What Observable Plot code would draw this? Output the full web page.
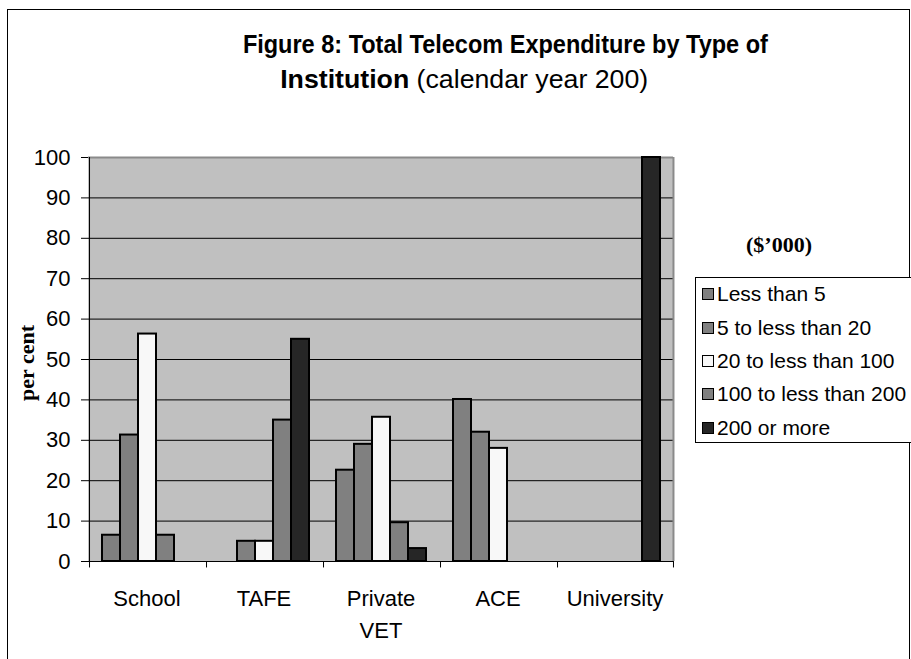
<!DOCTYPE html>
<html><head><meta charset="utf-8">
<script src="https://cdn.jsdelivr.net/npm/d3@7"></script>
<script src="https://cdn.jsdelivr.net/npm/@observablehq/plot@0.6"></script>
<style>
body{margin:0;background:#fff;font-family:"Liberation Sans",Arial,sans-serif;color:#000;}
#wrap{position:relative;width:911px;height:659px;overflow:hidden;}
#border{position:absolute;left:7px;top:9px;width:903px;height:720px;border:1px solid #000;box-sizing:border-box;}
.t{position:absolute;font-size:26px;line-height:26px;white-space:nowrap;transform-origin:center center;}
#ylab{position:absolute;left:27px;top:363px;transform:translate(-50%,-50%) rotate(-90deg);font-family:"Liberation Serif","Times New Roman",serif;font-weight:bold;font-size:22px;white-space:nowrap;}
#unit{position:absolute;left:779px;top:245px;transform:translate(-50%,-50%);font-family:"Liberation Serif","Times New Roman",serif;font-weight:bold;font-size:22px;white-space:nowrap;}
#legend{position:absolute;left:695px;top:277px;width:240px;height:166px;border:1px solid #000;box-sizing:border-box;background:#fff;}
.li{position:absolute;left:6px;height:24px;display:flex;align-items:center;font-size:21px;white-space:nowrap;}
.sw{width:10px;height:10px;border:1.5px solid #000;margin-right:3px;}
#chart{position:absolute;left:0;top:0;}
</style></head>
<body><div id="wrap">
<div id="border"></div>
<div class="t" id="t1" style="top:31px"><b>Figure 8: Total Telecom Expenditure by Type of</b></div>
<div class="t" id="t2" style="top:66px"><b>Institution</b> (calendar year 200)</div>
<div id="chart"></div>
<div id="ylab">per cent</div>
<div id="unit">($’000)</div>
<div id="legend"></div>
</div>
<script>
const categories = ["School", "TAFE", "Private VET", "ACE", "University"];
const series = ["Less than 5", "5 to less than 20", "20 to less than 100", "100 to less than 200", "200 or more"];
const lessThan5      = [6.5, 0, 22.6, 40.1, 0];
const from5to20      = [31.3, 5.0, 29.0, 32.0, 0];
const from20to100    = [56.3, 5.0, 35.7, 28.0, 0];
const from100to200   = [6.5, 35.0, 9.6, 0, 0];
const from200up      = [0, 55.0, 3.2, 0, 100];
const yTicks = [0, 10, 20, 30, 40, 50, 60, 70, 80, 90, 100];
const seriesColors = ["#808080", "#808080", "#f8f8f8", "#808080", "#262626"];

const valueArrays = [lessThan5, from5to20, from20to100, from100to200, from200up];
const rows = [];
categories.forEach((c, i) => series.forEach((s, j) => rows.push({cat: c, series: s, value: valueArrays[j][i]})));

const W = 911, H = 659, ml = 87, mr = W - 673, mt = 157, mb = H - 561;
const po = 0.7;
const fw = (W - ml - mr) / categories.length;
const step = fw / (series.length + 2 * po);
const edge = (0.5 + po) * step;
const fmt = d => d === "Private VET" ? "Private\nVET" : d;

const chart = Plot.plot({
  width: W, height: H,
  marginLeft: ml, marginRight: mr, marginTop: mt, marginBottom: mb,
  style: {fontFamily: "'Liberation Sans', Arial, sans-serif", fontSize: "22px", color: "#000", background: "transparent", overflow: "visible"},
  fx: {domain: categories, padding: 0, label: null, axis: null},
  x: {domain: series, paddingInner: 0, paddingOuter: po, axis: null},
  y: {domain: [0, 100], axis: null, label: null},
  color: {domain: series, range: seriesColors},
  marks: [
    Plot.frame({fill: "#c0c0c0", stroke: "#c0c0c0"}),
    Plot.gridY(yTicks.filter(t => t > 0 && t < 100), {stroke: "#000", strokeOpacity: 1, strokeWidth: 1}),
    Plot.ruleY([100], {stroke: "#8a8a8a", strokeWidth: 2}),
    Plot.barY(rows.filter(d => d.value > 0), {fx: "cat", x: "series", y: "value", fill: "series", stroke: "#000", strokeWidth: 2}),
    Plot.ruleY([0], {stroke: "#000", strokeWidth: 1}),
    Plot.ruleX(categories, {fx: d => d, x: () => series[0], y1: 0, y2: -1.6, dx: -edge, stroke: "#000"}),
    Plot.ruleX([categories[categories.length - 1]], {fx: d => d, x: () => series[series.length - 1], y1: 0, y2: -1.6, dx: edge, stroke: "#000"}),
    Plot.ruleX([categories[0]], {fx: d => d, x: () => series[0], y1: 0, y2: 100, dx: -edge, stroke: "#000"}),
    Plot.ruleX([categories[categories.length - 1]], {fx: d => d, x: () => series[series.length - 1], y1: 0, y2: 100, dx: edge, stroke: "#8a8a8a", strokeWidth: 2}),
    Plot.axisY(yTicks, {anchor: "left", tickSize: 7, tickPadding: 11, fontSize: 22, label: null}),
    Plot.axisFx({anchor: "bottom", tickSize: 0, tickPadding: 22, fontSize: 22, tickFormat: fmt, lineHeight: 1.45, label: null})
  ]
});
document.getElementById("chart").appendChild(chart);

// fit title lines to the widths/centres seen in the reference
function fitLine(id, cx, targetW) {
  const el = document.getElementById(id);
  const w = el.getBoundingClientRect().width;
  el.style.left = (cx - w / 2) + "px";
  el.style.transform = "scaleX(" + (targetW / w) + ")";
}
fitLine("t1", 505, 525);
fitLine("t2", 464, 368);

const leg = document.getElementById("legend");
const rowTops = [16, 50, 83, 116, 150];
series.forEach((s, j) => {
  const it = document.createElement("div");
  it.className = "li";
  it.style.top = (rowTops[j] - 12) + "px";
  const sw = document.createElement("span");
  sw.className = "sw";
  sw.style.background = seriesColors[j];
  it.appendChild(sw);
  it.appendChild(document.createTextNode(s));
  leg.appendChild(it);
});
</script>
</body></html>
